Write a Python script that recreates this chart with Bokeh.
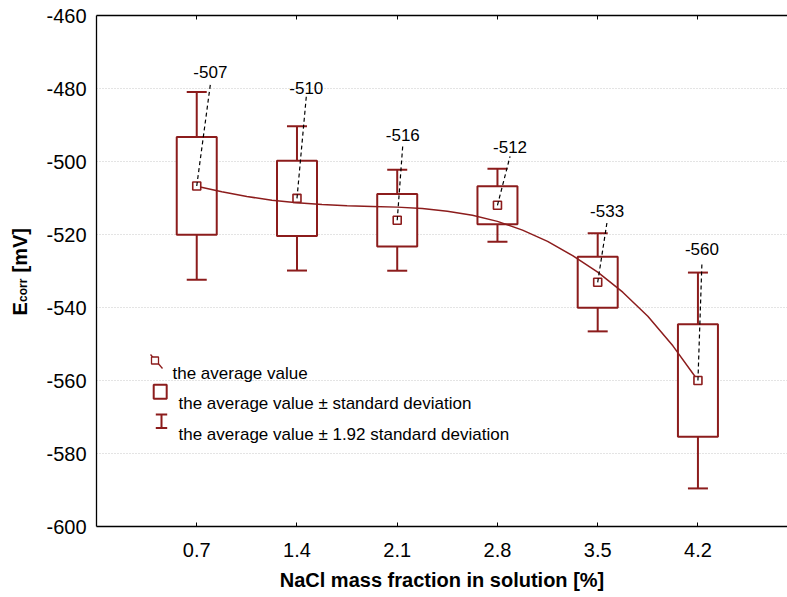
import math
from bokeh.plotting import figure
from bokeh.layouts import row
from bokeh.models import (Range1d, FixedTicker, LinearAxis, Label, LabelSet,
                          ColumnDataSource)
from bokeh.core.properties import value
from bokeh.embed import file_html
from bokeh.resources import INLINE

# ---------------- data ----------------
nacl = [0.7, 1.4, 2.1, 2.8, 3.5, 4.2]
x_tick_labels = ["0.7", "1.4", "2.1", "2.8", "3.5", "4.2"]
mean_ecorr = [-506.7, -510.1, -516.1, -512.0, -533.1, -560.0]
sd_ecorr = [13.4, 10.3, 7.2, 5.2, 7.0, 15.4]
value_labels = ["-507", "-510", "-516", "-512", "-533", "-560"]
sd_factor = 1.92
fit_x = [0.7, 0.875, 1.05, 1.225, 1.4, 1.575, 1.75, 1.925, 2.1, 2.275, 2.45,
         2.625, 2.8, 2.975, 3.15, 3.325, 3.5, 3.675, 3.85, 4.025, 4.2]
fit_y = [-506.8, -508.3, -509.6, -510.6, -511.3, -511.8, -512.1, -512.3,
         -512.5, -512.9, -513.6, -514.7, -516.4, -518.8, -521.9, -525.8,
         -530.3, -535.8, -542.4, -550.5, -560.0]
y_ticks = [-600, -580, -560, -540, -520, -500, -480, -460]
y_tick_labels = ["-600", "-580", "-560", "-540", "-520", "-500", "-480", "-460"]
legend_texts = ["the average value",
                "the average value \u00b1 standard deviation",
                "the average value \u00b1 1.92 standard deviation"]

# ---------------- layout (pixels) ----------------
W, H = 787, 597
SIDE_W = 40
FL, FR, FT, FB = 96, 0, 15, 71
frame_w = W - FL - FR
frame_h = H - FT - FB
Y0, Y1 = -600, -460
PX_X = 143.2                      # pixels per unit of x
PX_Y = frame_h / (Y1 - Y0)        # pixels per mV
X_END = frame_w / PX_X


def sx(px):
    return (px - FL) / PX_X


def sy(py):
    return Y1 - (py - FT) / PX_Y


# label / leader offsets in screen pixels (style only)
lead_dx = [13.6, 9.3, 5.6, 12.6, 9.4, 4.0]
lead_dy = [-101.4, -101.6, -75.7, -49.0, -60.6, -118.0]
lab_gap = [7.0, 2.5, 3.6, 3.7, 4.4, 7.5]

RED = "#8c1c1c"
FONT = "Liberation Sans"

p = figure(width=W - SIDE_W, height=H, output_backend="svg", toolbar_location=None,
           x_range=Range1d(0, X_END), y_range=Range1d(Y0, Y1),
           min_border_left=FL - SIDE_W, min_border_right=FR, min_border_top=FT,
           min_border_bottom=FB, background_fill_color="white",
           border_fill_color="white")
p.outline_line_color = None

# axes
xa = p.xaxis[0]
xa.ticker = FixedTicker(ticks=nacl)
xa.major_label_overrides = {v: s for v, s in zip(nacl, x_tick_labels)}
xa.major_tick_in = 4
xa.major_tick_out = 0
xa.minor_tick_line_color = None
xa.major_label_standoff = 16
xa.major_label_text_font = FONT
xa.major_label_text_font_size = "20px"
xa.major_label_text_color = "black"
xa.axis_line_color = "black"
xa.axis_line_width = 1.3
xa.axis_label = "NaCl mass fraction in solution [%]"
xa.axis_label_text_font = FONT
xa.axis_label_text_font_style = "bold"
xa.axis_label_text_font_size = "20px"
xa.axis_label_text_color = "black"
xa.axis_label_standoff = 9

ya = p.yaxis[0]
ya.ticker = FixedTicker(ticks=y_ticks)
ya.major_label_overrides = {v: s for v, s in zip(y_ticks, y_tick_labels)}
ya.major_tick_in = 0
ya.major_tick_out = 0
ya.minor_tick_line_color = None
ya.major_label_standoff = 10
ya.major_label_text_font = FONT
ya.major_label_text_font_size = "20px"
ya.major_label_text_color = "black"
ya.axis_line_color = "black"
ya.axis_line_width = 1.3

top = LinearAxis(ticker=FixedTicker(ticks=nacl), major_tick_in=4,
                 major_tick_out=0, minor_tick_line_color=None,
                 major_label_overrides={v: "" for v in nacl},
                 major_label_text_font_size="1px", major_label_standoff=0,
                 axis_line_color="black", axis_line_width=1.3)
p.add_layout(top, "above")

p.xgrid.grid_line_color = None
p.ygrid.ticker = FixedTicker(ticks=y_ticks)
p.ygrid.grid_line_color = "#c8c8c8"
p.ygrid.grid_line_dash = "1 2"
p.ygrid.grid_line_width = 1

# derived box / whisker limits
box_top = [m + s for m, s in zip(mean_ecorr, sd_ecorr)]
box_bot = [m - s for m, s in zip(mean_ecorr, sd_ecorr)]
wh_top = [m + sd_factor * s for m, s in zip(mean_ecorr, sd_ecorr)]
wh_bot = [m - sd_factor * s for m, s in zip(mean_ecorr, sd_ecorr)]

src = ColumnDataSource(dict(x=nacl, mean=mean_ecorr, bt=box_top, bb=box_bot,
                            wt=wh_top, wb=wh_bot))

box_w = 40 / PX_X
cap_w = 20 / PX_X
# whisker stems
p.segment(x0="x", y0="bt", x1="x", y1="wt", source=src, line_color=RED, line_width=2)
p.segment(x0="x", y0="bb", x1="x", y1="wb", source=src, line_color=RED, line_width=2)
# caps
p.segment(x0=[x - cap_w / 2 for x in nacl], y0=wh_top,
          x1=[x + cap_w / 2 for x in nacl], y1=wh_top, line_color=RED, line_width=2)
p.segment(x0=[x - cap_w / 2 for x in nacl], y0=wh_bot,
          x1=[x + cap_w / 2 for x in nacl], y1=wh_bot, line_color=RED, line_width=2)
# boxes
p.vbar(x="x", top="bt", bottom="bb", width=box_w, source=src,
       fill_color="white", line_color=RED, line_width=2)
# fitted curve
p.line(fit_x, fit_y, line_color=RED, line_width=1.5)
# mean markers
p.scatter(x="x", y="mean", source=src, marker="square", size=8,
          fill_color="white", line_color=RED, line_width=1.6)

# leaders and labels
lx = [x + dx / PX_X for x, dx in zip(nacl, lead_dx)]
ly = [m - dy / PX_Y for m, dy in zip(mean_ecorr, lead_dy)]
p.segment(x0=nacl, y0=mean_ecorr, x1=lx, y1=ly, line_color="black",
          line_width=1.2, line_dash="4 3")
lab_src = ColumnDataSource(dict(x=lx, y=[yy + g / PX_Y for yy, g in zip(ly, lab_gap)],
                                t=value_labels))
p.add_layout(LabelSet(x="x", y="y", text="t", source=lab_src,
                      text_align="center", text_baseline="alphabetic",
                      text_font=value(FONT), text_font_size="17px",
                      text_color="black"))

# legend (drawn manually)
p.segment(x0=[sx(150)], y0=[sy(354)], x1=[sx(162)], y1=[sy(368)],
          line_color=RED, line_width=1.3)
p.scatter(x=[sx(154.5)], y=[sy(360)], marker="square", size=7,
          fill_color="white", line_color=RED, line_width=1.3)
p.rect(x=[sx(159.7)], y=[sy(391.3)], width=13, height=14, width_units="screen",
       height_units="screen", fill_color="white", line_color=RED, line_width=2)
p.segment(x0=[sx(161)], y0=[sy(414)], x1=[sx(161)], y1=[sy(427.5)],
          line_color=RED, line_width=2)
p.segment(x0=[sx(155.3), sx(155.3)], y0=[sy(414), sy(427.5)],
          x1=[sx(166.7), sx(166.7)], y1=[sy(414), sy(427.5)],
          line_color=RED, line_width=2)
for t, (px, py) in zip(legend_texts, [(172, 373.0), (178, 403.0), (178, 433.5)]):
    p.add_layout(Label(x=sx(px), y=sy(py), text=t, text_font=FONT,
                       text_font_size="17px", text_color="black",
                       text_align="left", text_baseline="alphabetic"))

# side panel holding the rotated y-axis title (E with subscript "corr").
# Its frame is aligned with the main frame (page y from FT to FT+frame_h),
# so the y range is set to minus page pixels.
side = figure(width=SIDE_W, height=H, output_backend="svg", toolbar_location=None,
              x_range=Range1d(0, SIDE_W), y_range=Range1d(-(FT + frame_h), -FT),
              min_border=0, x_axis_location=None, y_axis_location=None,
              background_fill_color="white", border_fill_color="white")
side.outline_line_color = None
side.grid.visible = False
for t, px, py, fs in [("E", 19.5, 315, "20px"), ("corr", 22, 301.5, "12px"),
                      ("[mV]", 19.5, 272.0, "20px")]:
    side.text(x=[px], y=[-py], text=[t], angle=math.pi / 2,
              text_font=value(FONT), text_font_size=fs, text_font_style="bold",
              text_color="black", text_align="left", text_baseline="alphabetic")

layout = row(side, p)
open("out.html", "w").write(file_html(layout, INLINE))
